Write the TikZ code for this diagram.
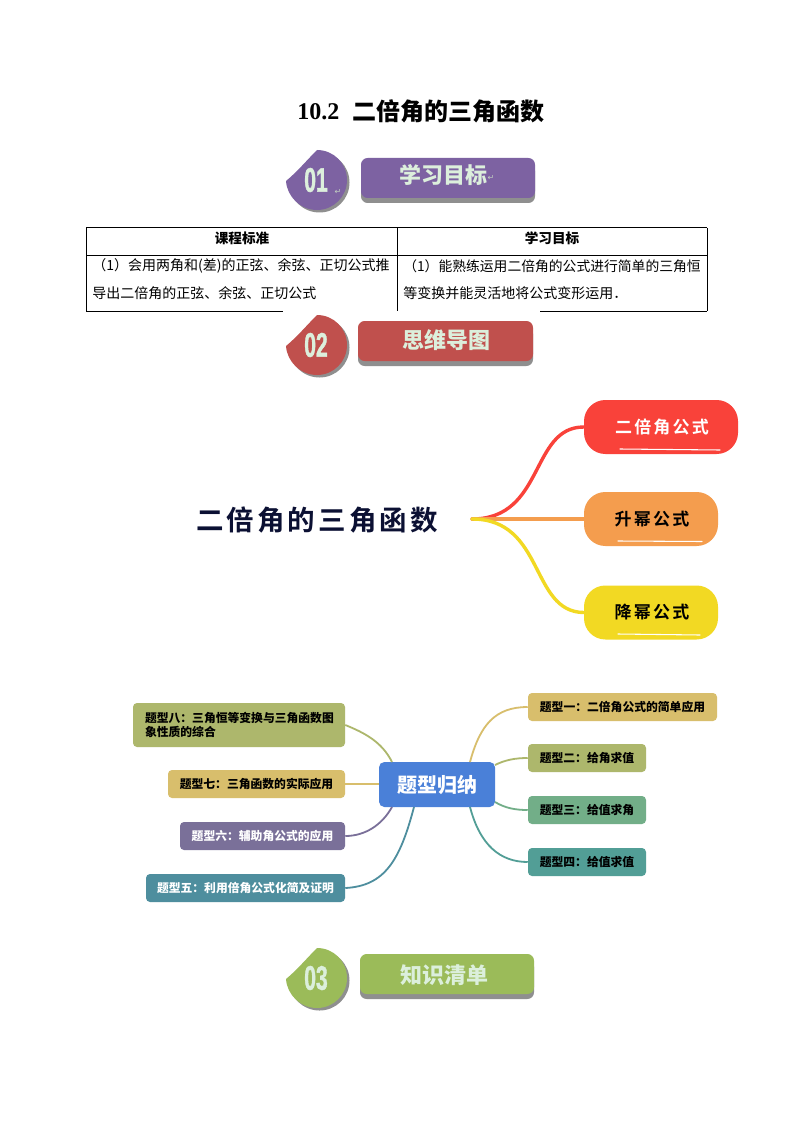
\documentclass[tikz,border=0pt]{standalone}
\usepackage{fontspec}
\setmainfont{Noto Sans CJK SC}
\newfontfamily\serifbf{Liberation Serif}[BoldFont={Liberation Serif Bold}]
\newfontfamily\narrowbf[FakeBold=1.6]{Liberation Sans Bold}
\newfontfamily\dejavu{DejaVu Sans}
\newfontfamily\spaced[LetterSpace=11]{Noto Sans CJK SC Bold}
\newfontfamily\spacedb[LetterSpace=13]{Noto Sans CJK SC Bold}
\def\px{0.75pt}
\newcommand{\pxfont}[1]{\fontsize{\dimexpr#1\dimexpr0.75pt\relax\relax}{\dimexpr#1\dimexpr0.9pt\relax\relax}\selectfont}
\definecolor{cpurple}{HTML}{7D62A2}
\definecolor{cred}{HTML}{C0504D}
\definecolor{cgreen}{HTML}{9BBB59}
\definecolor{cshadow}{HTML}{8F8F8F}
\definecolor{cpale}{HTML}{DCEFDC}
\definecolor{cnavy}{HTML}{0B1033}
\definecolor{pred}{HTML}{F9423A}
\definecolor{porange}{HTML}{F49D4E}
\definecolor{pyellow}{HTML}{F2D923}
\definecolor{mblue}{HTML}{4A80D8}
\definecolor{mtan}{HTML}{D8BE6C}
\definecolor{molive}{HTML}{ADB76C}
\definecolor{mgreen}{HTML}{72AE88}
\definecolor{mteal}{HTML}{529E96}
\definecolor{mviolet}{HTML}{7A7099}
\definecolor{mblueg}{HTML}{4E8E9E}
\tikzset{
  x=0.75pt,y=-0.75pt,
  tablerule/.style={line width=0.75pt,black},
  celltext/.style={font=\pxfont{14},anchor=west,inner sep=0pt},
  headtext/.style={font=\pxfont{13.6}\bfseries,inner sep=0pt},
  banner/.style={rounded corners=5pt,inner sep=0pt},
  bannertext/.style={font=\pxfont{22}\bfseries,text=cpale,inner sep=0pt},
  digits/.style={font=\narrowbf\pxfont{34},text=cpale,inner sep=0pt,xscale=0.62},
  pill/.style={rounded corners=16pt,inner sep=0pt,minimum height=54*\px},
  pilltext/.style={font=\spacedb\pxfont{17}},
  trunk/.style={line width=3.4*\px,line cap=round},
  topic/.style={rounded corners=3pt,inner sep=0pt,minimum height=28*\px,font=\pxfont{11.8}\bfseries,text=black},
  branch/.style={line width=1.8*\px},
}
\newcommand{\badgeshape}{(0,-30) .. controls (16.6,-30) and (30,-16.6) .. (30,0) .. controls (30,16.6) and (16.6,30) .. (0,30) .. controls (-16.6,30) and (-30,16.6) .. (-31,1) .. controls (-20,-8) and (-10,-20) .. cycle}
\newcommand{\badge}[4]{%
  \begin{scope}[shift={(#1,#2)}]
    \fill[cshadow] [shift={(2.5,2.5)}] \badgeshape;
    \fill[#3] \badgeshape;
    \node[digits] (badge#4) at (-1,0) {#4};
  \end{scope}}
\begin{document}
\begin{tikzpicture}
\useasboundingbox (0,0) rectangle (793,1123);
\fill[white] (0,0) rectangle (793,1123);
% title
\node[inner sep=0pt,font=\serifbf\bfseries\pxfont{24},anchor=west] (ttlnum) at (297,112) {10.2};
\node[inner sep=0pt,font=\pxfont{24}\bfseries,anchor=west] (ttl) at (352,111) {二倍角的三角函数};
% section 1
\badge{317}{180}{cpurple}{01}
\fill[cshadow,rounded corners=5pt] (361,164) rectangle (535,203);
\node[banner,fill=cpurple,minimum width=174*\px,minimum height=40*\px] (b1) at (448,178) {};
\node[bannertext] (b1t) at (443,175) {学习目标};
\node[inner sep=0pt,font=\dejavu\pxfont{8},text=cpale!70!gray] (ret1) at (491,178) {↵};
\node[inner sep=0pt,font=\dejavu\pxfont{8},text=cpale!70!gray] (ret2) at (338,192) {↵};
% table
\draw[tablerule] (86,228) -- (707,228) (86,255) -- (707,255);
\draw[tablerule] (86,228) -- (86,311) (397,228) -- (397,311) (707,228) -- (707,311);
\draw[tablerule] (86,311) -- (283,311) (540,311) -- (707,311);
\node[headtext] (h1) at (242,238) {课程标准};
\node[headtext] (h2) at (552,238) {学习目标};
\node[celltext] (l1) at (92,266) {（1）会用两角和(差)的正弦、余弦、正切公式推};
\node[celltext] (l2) at (92,293) {导出二倍角的正弦、余弦、正切公式};
\node[celltext,font=\pxfont{13.8}] (r1) at (403,266) {（1）能熟练运用二倍角的公式进行简单的三角恒};
\node[celltext] (r2) at (403,293) {等变换并能灵活地将公式变形运用．};
% section 2
\badge{317}{345}{cred}{02}
\fill[cshadow,rounded corners=5pt] (358,327) rectangle (533,366);
\node[banner,fill=cred,minimum width=175*\px,minimum height=40*\px] (b2) at (445.5,341) {};
\node[bannertext] (b2t) at (446,340) {思维导图};
% mind map 1
\node[inner sep=0pt,font=\spaced\pxfont{27.5},text=cnavy] (root) at (317,520) {二倍角的三角函数};
\coordinate (hub) at (472,519);
\node[pill,fill=pred,minimum width=154*\px] (p1) at (661,427) {};
\node[pill,fill=porange,minimum width=134*\px] (p2) at (651,519) {};
\node[pill,fill=pyellow,minimum width=134*\px] (p3) at (651,612.5) {};
\draw[trunk,pred] (hub) .. controls (545,519) and (530,427) .. (p1.west);
\draw[trunk,porange] (hub) -- (p2.west);
\draw[trunk,pyellow] (hub) .. controls (545,519) and (530,612) .. (p3.west);
\node[pilltext,text=white] (p1t) at (662,427) {二倍角公式};
\node[pilltext,text=black] (p2t) at (652,519) {升幂公式};
\node[pilltext,text=black] (p3t) at (652,612) {降幂公式};
\draw[white,line width=0.8pt,line cap=round] (620,449) -- (720,450);
\draw[white,line width=0.8pt,line cap=round] (618,541) -- (702,541.5);
\draw[white,line width=0.8pt,line cap=round] (618,634) -- (700,635);
% mind map 2
\node[rounded corners=4pt,fill=mblue,text=white,inner sep=0pt,minimum width=116*\px,minimum height=45*\px,font=\pxfont{20}\bfseries] (hubbox) at (437,784.5) {题型归纳};
\node[topic,fill=mtan,minimum width=189*\px] (t1) at (622.5,707) {题型一：二倍角公式的简单应用};
\node[topic,fill=molive,minimum width=118*\px] (t2) at (587,758) {题型二：给角求值};
\node[topic,fill=mgreen,minimum width=118*\px] (t3) at (587,810) {题型三：给值求角};
\node[topic,fill=mteal,minimum width=118*\px] (t4) at (587,862) {题型四：给值求值};
\node[topic,fill=mblueg,minimum width=199*\px,text=white] (t5) at (245.5,888) {题型五：利用倍角公式化简及证明};
\node[topic,fill=mviolet,minimum width=165*\px,text=white] (t6) at (262.5,836) {题型六：辅助角公式的应用};
\node[topic,fill=mtan,minimum width=177*\px] (t7) at (256.5,784) {题型七：三角函数的实际应用};
\node[topic,fill=molive,minimum width=212*\px,minimum height=44*\px,align=left,text width=188*\px] (t8) at (239,725) {题型八：三角恒等变换与三角函数图\\象性质的综合};
\coordinate (a1) at (470,762);
\coordinate (a2) at (495,765);
\coordinate (a3) at (495,802);
\coordinate (a4) at (470,807);
\coordinate (a5) at (414,807);
\coordinate (a6) at (392,807);
\coordinate (a7) at (379,784);
\coordinate (a8) at (392,762);
\draw[branch,mtan] (a1) .. controls (480,725) and (495,707) .. (t1.west);
\draw[branch,molive] (a2) .. controls (505,760) and (515,758) .. (t2.west);
\draw[branch,mgreen] (a3) .. controls (505,808) and (515,810) .. (t3.west);
\draw[branch,mteal] (a4) .. controls (480,845) and (500,862) .. (t4.west);
\draw[branch,mblueg] (a5) .. controls (400,860) and (385,886) .. (t5.east);
\draw[branch,mviolet] (a6) .. controls (382,825) and (365,836) .. (t6.east);
\draw[branch,mtan] (a7) -- (t7.east);
\draw[branch,molive] (a8) .. controls (382,742) and (365,733) .. (t8.east);
% section 3
\badge{317}{978}{cgreen}{03}
\fill[cshadow,rounded corners=5pt] (360,960) rectangle (534,999);
\node[banner,fill=cgreen,minimum width=174*\px,minimum height=40*\px] (b3) at (447,974) {};
\node[bannertext] (b3t) at (444,975) {知识清单};
\end{tikzpicture}
\end{document}
